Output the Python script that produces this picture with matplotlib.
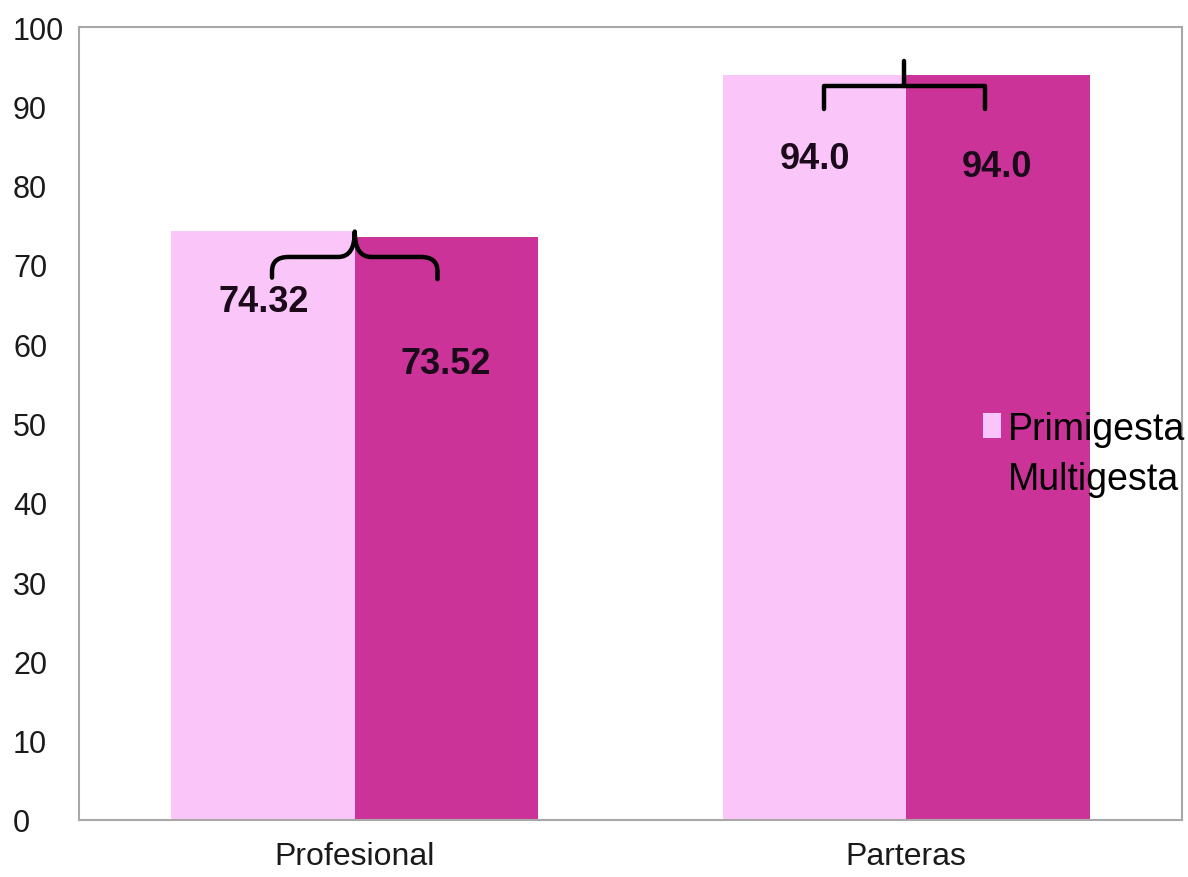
import numpy as np
import matplotlib
matplotlib.use("Agg")
import matplotlib.pyplot as plt
from matplotlib.patches import Patch, PathPatch
from matplotlib.path import Path

plt.rcParams['font.family'] = ['Liberation Sans', 'DejaVu Sans']

# --- data ---
categories = ["Profesional", "Parteras"]
series = ["Primigesta", "Multigesta"]
primigesta = [74.32, 94.0]
multigesta = [73.52, 94.0]
prim_labels = ["74.32", "94.0"]
mult_labels = ["73.52", "94.0"]
# vertical spot of the value text inside each bar
prim_label_y = [65.4, 83.4]
mult_label_y = [57.6, 82.4]
# brackets drawn over each pair of bars
bracket_level = [71.0, 92.6]
bracket_foot = [68.4, 89.7]
bracket_tip = [74.2, 95.7]
bracket_kind = ["curly", "square"]

colors = ["#FAC6FA", "#CC3399"]

fig = plt.figure(figsize=(11.88, 8.78), dpi=100)
ax = fig.add_axes([79 / 1188, 1 - 821 / 878, (1182 - 79) / 1188, (821 - 28) / 878])

x = np.arange(len(categories))
w = 0.333
ax.bar(x - w / 2, primigesta, w, color=colors[0], label=series[0])
ax.bar(x + w / 2, multigesta, w, color=colors[1], label=series[1])

# value labels
for i in range(len(categories)):
    ax.text(x[i] - 0.165, prim_label_y[i], prim_labels[i], ha='center', va='center',
            fontsize=26, fontweight='bold', color='#1a0a1a')
    ax.text(x[i] + 0.165, mult_label_y[i], mult_labels[i], ha='center', va='center',
            fontsize=26, fontweight='bold', color='#1a0a1a')

# brackets
for i in range(len(categories)):
    c = x[i]
    h = bracket_level[i]
    f = bracket_foot[i]
    t = bracket_tip[i]
    s = 0.15
    if bracket_kind[i] == "curly":
        verts = [(c - s, f), (c - s, h - 1.8), (c - s, h), (c - s + 0.03, h),
                 (c - 0.03, h), (c, h), (c, t),
                 (c, h), (c + 0.03, h), (c + s - 0.03, h),
                 (c + s, h), (c + s, h - 1.8), (c + s, f - 0.2)]
        codes = [Path.MOVETO, Path.LINETO, Path.CURVE3, Path.CURVE3,
                 Path.LINETO, Path.CURVE3, Path.CURVE3,
                 Path.CURVE3, Path.CURVE3, Path.LINETO,
                 Path.CURVE3, Path.CURVE3, Path.LINETO]
    else:
        verts = [(c - s, f), (c - s, h), (c + s - 0.007, h), (c + s - 0.007, f),
                 (c - 0.004, h), (c - 0.004, t)]
        codes = [Path.MOVETO, Path.LINETO, Path.LINETO, Path.LINETO,
                 Path.MOVETO, Path.LINETO]
    ax.add_patch(PathPatch(Path(verts, codes), fill=False, lw=3.2,
                           edgecolor='black', capstyle='round', joinstyle='round'))

ax.set_xlim(-0.5, 1.5)
ax.set_ylim(0, 100)
ax.set_yticks(np.arange(0, 101, 10))
ax.set_xticks(x)
ax.set_xticklabels(categories, fontsize=23, color='#1a1a1a')
ax.tick_params(axis='y', length=0, pad=47.5, labelsize=22, labelcolor='#1a1a1a')
ax.tick_params(axis='x', length=0, pad=15)
for lab in ax.get_yticklabels():
    lab.set_horizontalalignment('left')

for sp in ax.spines.values():
    sp.set_color('#A8A8A8')
    sp.set_linewidth(1.5)

handles = [Patch(facecolor=colors[0]), Patch(facecolor=colors[1])]
fig.legend(handles, series, loc='upper left',
           bbox_to_anchor=(983 / 1188, 1 - 412 / 878), frameon=False,
           fontsize=27, handlelength=0.47, handleheight=0.64, handletextpad=0.2,
           labelspacing=0.38, borderpad=0, borderaxespad=0)

fig.savefig("out.png", dpi=100)
